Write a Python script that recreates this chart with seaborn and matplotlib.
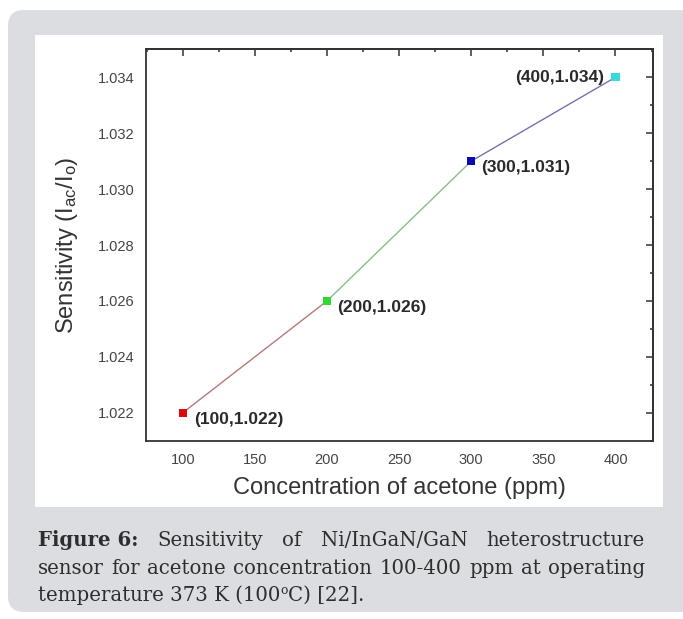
import numpy as np
import pandas as pd
import matplotlib
matplotlib.use("Agg")
import matplotlib.pyplot as plt
import seaborn as sns
from matplotlib.patches import FancyBboxPatch
from matplotlib.transforms import IdentityTransform
from matplotlib.ticker import MultipleLocator, FormatStrFormatter

# ---- data ----
concentration = [100, 200, 300, 400]
sensitivity = [1.022, 1.026, 1.031, 1.034]
point_labels = ["(100,1.022)", "(200,1.026)", "(300,1.031)", "(400,1.034)"]
marker_colors = ["#dd0a0a", "#2fd82f", "#0a0ab4", "#3ad8d8"]
segment_colors = ["#b87878", "#86c086", "#7272b0"]
x_ticks = [100, 150, 200, 250, 300, 350, 400]
y_ticks = [1.022, 1.024, 1.026, 1.028, 1.030, 1.032, 1.034]
x_title = "Concentration of acetone (ppm)"
y_title = "Sensitivity (I$_{ac}$/I$_o$)"
caption_lines = [
    [("Figure 6:", True), ("Sensitivity", False), ("of", False), ("Ni/InGaN/GaN", False), ("heterostructure", False)],
    [("sensor", False), ("for", False), ("acetone", False), ("concentration", False), ("100-400", False),
     ("ppm", False), ("at", False), ("operating", False)],
]
caption_last = ["temperature 373 K (100", "o", "C) [22]."]

W, H = 683, 619
sns.set_theme(style="white")
plt.rcParams["font.family"] = ["Liberation Sans", "DejaVu Sans"]
plt.rcParams["mathtext.fontset"] = "custom"
plt.rcParams["mathtext.rm"] = "Liberation Sans"
plt.rcParams["mathtext.it"] = "Liberation Sans:italic"
plt.rcParams["mathtext.default"] = "regular"

fig = plt.figure(figsize=(W / 100, H / 100), dpi=100)
fig.patch.set_facecolor("white")

# gray card and white panel (pixel coordinates)
card = FancyBboxPatch((8, 7), 700, 602, boxstyle="round,pad=0,rounding_size=16",
                      transform=IdentityTransform(), facecolor="#dcdde0", edgecolor="none", zorder=-10)
fig.add_artist(card)
panel = FancyBboxPatch((35, 619 - 507), 628, 472, boxstyle="square,pad=0",
                       transform=IdentityTransform(), facecolor="white", edgecolor="none", zorder=-9)
fig.add_artist(panel)

# axes
L, R, T, B = 146, 653, 49, 441
ax = fig.add_axes([L / W, 1 - B / H, (R - L) / W, (B - T) / H])
ax.set_facecolor("white")

# line segments
rows = []
for i in range(len(concentration) - 1):
    rows.append({"x": concentration[i], "y": sensitivity[i], "seg": i})
    rows.append({"x": concentration[i + 1], "y": sensitivity[i + 1], "seg": i})
seg_df = pd.DataFrame(rows)
sns.lineplot(data=seg_df, x="x", y="y", hue="seg", palette=segment_colors, linewidth=1.0,
             legend=False, ax=ax, sort=False)

pts = pd.DataFrame({"x": concentration, "y": sensitivity, "k": range(len(concentration))})
sns.scatterplot(data=pts, x="x", y="y", hue="k", palette=marker_colors, marker="s", s=36,
                edgecolor="none", legend=False, ax=ax, zorder=5)

offsets = [(8, -5, "left"), (7, -4.5, "left"), (7, -4.5, "left"), (-8, 0, "right")]
for xv, yv, lab, (dx, dy, ha) in zip(concentration, sensitivity, point_labels, offsets):
    ax.annotate(lab, (xv, yv), xytext=(dx, dy), textcoords="offset points", ha=ha, va="center",
                fontsize=12.5, fontweight="bold", color="#2a2a2a")

ax.set_xlim(74.5, 426)
ax.set_ylim(1.02099, 1.03501)
ax.set_xticks(x_ticks)
ax.set_yticks(y_ticks)
ax.xaxis.set_minor_locator(MultipleLocator(25))
ax.yaxis.set_minor_locator(MultipleLocator(0.001))
ax.yaxis.set_major_formatter(FormatStrFormatter("%.3f"))
ax.tick_params(axis="both", which="both", direction="out", color="#333333", width=1.1,
               labelsize=10.5, labelcolor="#444444")
ax.tick_params(axis="x", which="major", length=5, pad=4)
ax.tick_params(axis="x", which="minor", length=2.5)
ax.tick_params(axis="y", which="major", length=7, pad=1)
ax.tick_params(axis="y", which="minor", length=3)
for s in ax.spines.values():
    s.set_color("#333333")
    s.set_linewidth(1.3)

secx = ax.secondary_xaxis("top")
secx.set_xticks(x_ticks)
secx.xaxis.set_minor_locator(MultipleLocator(25))
secx.tick_params(which="both", direction="in", labeltop=False, color="#333333", width=1.1)
secx.tick_params(which="major", length=5)
secx.tick_params(which="minor", length=2.5)
secx.spines["top"].set_linewidth(1.3)
secx.spines["top"].set_color("#333333")
secy = ax.secondary_yaxis("right")
secy.set_yticks(y_ticks)
secy.yaxis.set_minor_locator(MultipleLocator(0.001))
secy.tick_params(which="both", direction="in", labelright=False, color="#333333", width=1.1)
secy.tick_params(which="major", length=5)
secy.tick_params(which="minor", length=2.5)
secy.spines["right"].set_linewidth(1.3)
secy.spines["right"].set_color("#333333")

ax.set_xlabel(x_title, fontsize=17, color="#333333")
ax.set_ylabel(y_title, fontsize=17, color="#333333")
ax.xaxis.set_label_coords(0.5, (B - 477) / (B - T))
ax.yaxis.set_label_coords((80 - L) / (R - L), 0.5)

# caption (justified)
renderer = fig.canvas.get_renderer()
cap_family = ["DejaVu Serif"]
cap_color = "#2e2e2e"
x0, x1 = 38, 645
baselines = [546, 574, 601]

def text_width(txt, bold, size):
    t = fig.text(0, 0, txt, fontsize=size, family=cap_family,
                 fontweight="bold" if bold else "normal")
    w = t.get_window_extent(renderer).width
    t.remove()
    return w

# fit the font so the second (tight) line fills the column
probe = " ".join(w for w, _ in caption_lines[1])
cap_size = 14 * 602 / text_width(probe, False, 14)

for line, yb in zip(caption_lines, baselines[:2]):
    widths = [text_width(w, b, cap_size) for w, b in line]
    gap = (x1 - x0 - sum(widths)) / (len(line) - 1)
    xc = x0
    for (wtxt, bold), wd in zip(line, widths):
        fig.text(xc / W, 1 - yb / H, wtxt, fontsize=cap_size, family=cap_family,
                 fontweight="bold" if bold else "normal", color=cap_color, va="baseline", ha="left")
        xc += wd + gap

xc = x0
for i, part in enumerate(caption_last):
    sup = (i == 1)
    fs = cap_size * 0.62 if sup else cap_size
    yb = baselines[2] - (7 if sup else 0)
    t = fig.text(xc / W, 1 - yb / H, part, fontsize=fs, family=cap_family, color=cap_color,
                 va="baseline", ha="left")
    xc += t.get_window_extent(renderer).width

fig.savefig("out.png", dpi=100)
